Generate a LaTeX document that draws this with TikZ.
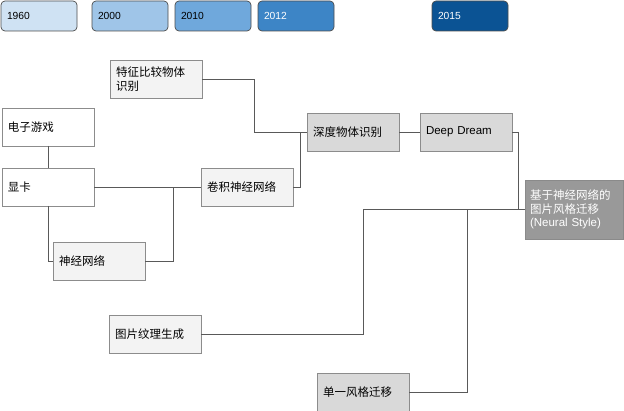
\documentclass[tikz,border=0pt]{standalone}
\usepackage{fontspec}
\setmainfont{Liberation Sans}
\newfontfamily\cjk{Noto Sans CJK SC}
\definecolor{y1960}{HTML}{CFE2F3}
\definecolor{y2000}{HTML}{9FC5E8}
\definecolor{y2010}{HTML}{6FA8DC}
\definecolor{y2012}{HTML}{3D85C6}
\definecolor{y2015}{HTML}{0B5394}
\definecolor{pale}{HTML}{F3F3F3}
\definecolor{mid}{HTML}{D9D9D9}
\definecolor{dark}{HTML}{999999}
\definecolor{rim}{HTML}{8C8C8C}
\definecolor{wire}{HTML}{595959}
\begin{document}
\begin{tikzpicture}[x=1pt,y=-1pt,
  year/.style={draw=black!70,rounded corners=4pt,anchor=north west,outer sep=0pt,
    minimum height=30pt,text width=64pt,inner xsep=6pt,inner ysep=0pt,align=left,
    font=\fontsize{10.3}{12}\selectfont,line width=0.7pt},
  box/.style={draw=rim,anchor=north west,outer sep=0pt,minimum height=38pt,
    text width=80pt,inner xsep=6pt,inner ysep=0pt,align=left,
    font=\fontsize{11.5}{13.5}\selectfont,line width=0.8pt},
  link/.style={draw=wire,line width=0.8pt}]
\useasboundingbox (0,0) rectangle (624,411);
% timeline
\node[year,fill=y1960] (t1960) at (1,1) {1960};
\node[year,fill=y2000] (t2000) at (92,1) {2000};
\node[year,fill=y2010] (t2010) at (175,1) {2010};
\node[year,fill=y2012,text=white] (t2012) at (258,1) {2012};
\node[year,fill=y2015,text=white] (t2015) at (432,1) {2015};
% boxes
\node[box,fill=pale] (feat) at (110,60) {{\cjk 特征比较物体}\\{\cjk 识别}};
\node[box,fill=white] (game) at (2,108) {{\cjk 电子游戏}};
\node[box,fill=white] (gpu) at (2,168) {{\cjk 显卡}};
\node[box,fill=pale] (cnn) at (201,168) {{\cjk 卷积神经网络}};
\node[box,fill=pale] (nn) at (53,242) {{\cjk 神经网络}};
\node[box,fill=mid] (deep) at (307,113) {{\cjk 深度物体识别}};
\node[box,fill=mid] (dream) at (420,113) {Deep Dream};
\node[box,fill=dark,draw=dark!90!black,text=white,text width=88pt,inner xsep=5pt,
  minimum height=59pt] (neural) at (525,180)
  {{\cjk 基于神经网络的}\\{\cjk 图片风格迁移}\\(Neural Style)};
\node[box,fill=pale] (tex) at (109,315) {{\cjk 图片纹理生成}};
\node[box,fill=mid] (single) at (317,373) {{\cjk 单一风格迁移}};
% links
\draw[link] (game.south) -- (gpu.north);
\draw[link] (gpu.east) -- (cnn.west);
\draw[link] (gpu.south) |- (nn.west);
\draw[link] (nn.east) -- ++(28,0) |- (cnn.west);
\draw[link] (feat.east) -- ++(52,0) |- (deep.west);
\draw[link] (cnn.east) -- ++(7,0) |- (deep.west);
\draw[link] (deep.east) -- (dream.west);
\draw[link] (dream.east) -- ++(6,0) |- (neural.west);
\draw[link] (tex.east) -- ++(162,0) |- (neural.west);
\draw[link] (single.east) -- ++(58,0) |- (neural.west);
\end{tikzpicture}
\end{document}
